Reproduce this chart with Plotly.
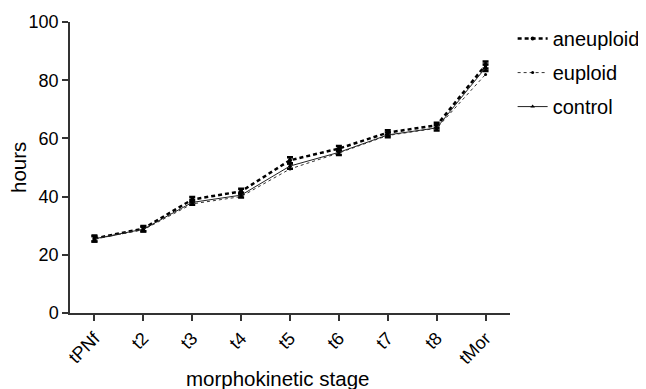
import plotly.graph_objects as go

stages = ["tPNf", "t2", "t3", "t4", "t5", "t6", "t7", "t8", "tMor"]
aneuploid = [25.6, 29.0, 39.0, 41.8, 52.5, 56.5, 62.0, 64.5, 85.2]
euploid = [25.4, 28.6, 37.5, 40.0, 49.5, 55.0, 61.0, 63.5, 82.0]
control = [25.5, 28.8, 38.0, 40.5, 50.5, 55.2, 61.2, 63.6, 84.3]
aneuploid_err = [1.0, 0.9, 0.9, 0.9, 1.0, 0.9, 0.8, 0.9, 1.2]
control_err = [0.9, 0.8, 0.8, 0.8, 0.9, 0.9, 0.8, 0.9, 1.1]

font = "Liberation Sans, Arial, sans-serif"

fig = go.Figure()
fig.add_trace(go.Scatter(
    x=stages, y=aneuploid, name="aneuploid", mode="lines+markers", legendgroup="a",
    line=dict(color="black", width=2.5, dash="4px,3px"),
    marker=dict(symbol="circle", size=4, color="black"),
    error_y=dict(type="data", array=aneuploid_err, color="black", thickness=2.5, width=3),
))
fig.add_trace(go.Scatter(
    x=stages, y=euploid, name="euploid", mode="lines+markers", legendgroup="b",
    line=dict(color="#333", width=1, dash="dot"),
    marker=dict(symbol="circle", size=3, color="black"),
))
fig.add_trace(go.Scatter(
    x=stages, y=control, name="control", mode="lines+markers", legendgroup="c",
    line=dict(color="#222", width=1),
    marker=dict(symbol="triangle-up", size=4, color="black"),
    error_y=dict(type="data", array=control_err, color="black", thickness=2.5, width=3),
))

W, H = 646, 389
L, T, R, B = 62, 14, 144, 84

fig.update_layout(
    width=W, height=H,
    margin=dict(l=L, r=R, t=T, b=B, autoexpand=False),
    plot_bgcolor="white", paper_bgcolor="white",
    font=dict(family=font, size=18, color="black"),
    legend=dict(x=1.006, y=1.01, xanchor="left", yanchor="top",
                font=dict(size=20), tracegroupgap=5, itemwidth=30),
    showlegend=True,
    annotations=[
        dict(text="morphokinetic stage", xref="paper", yref="paper",
             x=(277 - 8 - L) / (W - L - R), y=-(370 - (H - B)) / (H - T - B),
             xanchor="center", yanchor="middle", showarrow=False, font=dict(size=20.5)),
        dict(text="hours", xref="paper", yref="paper",
             x=-(L - 10) / (W - L - R), y=(H - B - 160) / (H - T - B),
             xanchor="center", yanchor="middle", textangle=-90, showarrow=False,
             font=dict(size=20.5)),
    ],
)
fig.update_xaxes(
    range=[-0.5, 8.5], tickangle=-45, showline=True, linecolor="#333", linewidth=1.5,
    ticks="outside", ticklen=6, tickwidth=1.5, tickcolor="#333", showgrid=False, zeroline=False,
    tickfont=dict(size=18), automargin=False,
)
fig.update_yaxes(
    range=[0, 100], dtick=20, showline=True, linecolor="#333", linewidth=1.5,
    ticks="outside", ticklen=6, tickwidth=1.5, tickcolor="#333", showgrid=False, zeroline=False,
    tickfont=dict(size=18), automargin=False,
)

fig.write_html("out.html")
